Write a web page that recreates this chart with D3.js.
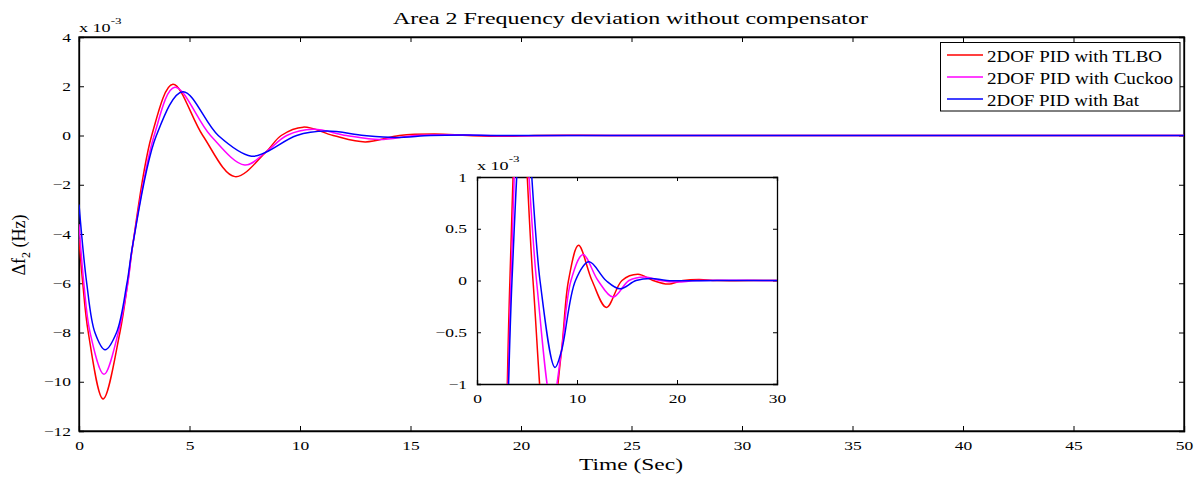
<!DOCTYPE html>
<html>
<head>
<meta charset="utf-8">
<script src="https://cdn.jsdelivr.net/npm/d3@7"></script>
<style>
body { margin: 0; background: #fff; }
text { font-family: "Liberation Serif", "DejaVu Serif", serif; fill: #000; }
</style>
</head>
<body>
<svg width="1203" height="478"></svg>
<script>
// values in units of 1e-3 Hz, time in seconds
var tlbo = [[0,-4.2],[0.17,-6],[0.42,-8],[1.09,-10.7],[1.85,-8],[2.2,-6],[2.44,-4.4],[3.29,0],[4.25,2.08],[5.6,0],[7.06,-1.67],[8.45,-0.68],[9.15,0],[10.15,0.34],[11.5,0],[12.95,-0.26],[14.5,0],[16.1,0.06],[17.6,0],[19.1,-0.035],[20.6,0],[22.2,0.01],[24,0],[30,0],[40,0],[50,0]];
var cuckoo = [[0,-3.6],[0.22,-6],[0.5,-8],[1.13,-9.7],[1.78,-8],[2.21,-6],[2.44,-4.4],[3.4,0],[4.34,1.96],[5.95,0],[7.5,-1.2],[8.45,-0.68],[9.4,0],[10.6,0.25],[12.1,0],[13.6,-0.16],[15.2,0],[16.8,0.035],[18.3,0],[20,-0.015],[22,0],[30,0],[40,0],[50,0]];
var bat = [[0,-2.8],[0.35,-6],[0.72,-8],[1.18,-8.7],[1.7,-8],[2.17,-6],[2.44,-4.4],[3.5,0],[4.7,1.78],[6.3,0],[7.8,-0.84],[8.45,-0.68],[9.85,0],[11.2,0.18],[12.9,0],[14.3,-0.08],[15.9,0],[17.4,0.02],[19,0],[24,0],[30,0],[40,0],[50,0]];

var seriesNames = ['2DOF PID with TLBO', '2DOF PID with Cuckoo', '2DOF PID with Bat'];
var seriesColors = ['#ff0000', '#ff00ff', '#0000ff'];
var legendWidths = [175, 186, 152];
var allSeries = [tlbo, cuckoo, bat];

var xTicks = [0,5,10,15,20,25,30,35,40,45,50];
var yTicks = [-12,-10,-8,-6,-4,-2,0,2,4];
var insetXTicks = [0,10,20,30];
var insetYTicks = [-1,-0.5,0,0.5,1];

var svg = d3.select('svg');
var stretch = 1.4;

// squeeze tick labels the same way as the original (wide type)
function styleAxis(g, side, pad) {
    g.selectAll('.domain').attr('stroke','#000').attr('stroke-width',1.3);
    g.selectAll('.tick line').attr('stroke','#000');
    g.selectAll('.tick text')
        .style('font-size','12.5px')
        .attr('transform','scale(' + stretch + ',1)');
    if (side === 'left') {
        g.selectAll('.tick text').attr('x', -pad / stretch);
    }
}

// ---- main plot
var x = d3.scaleLinear().domain([0,50]).range([79,1184]);
var y = d3.scaleLinear().domain([-12,4]).range([431,37]);

svg.append('clipPath').attr('id','mainclip')
    .append('rect').attr('x',79).attr('y',37).attr('width',1105).attr('height',394);

svg.append('rect')
    .attr('x',79).attr('y',37).attr('width',1105).attr('height',394)
    .attr('fill','#fff').attr('stroke','#000').attr('stroke-width',1.3);

var tl = 5;
svg.append('g').attr('transform','translate(0,431)')
    .call(d3.axisBottom(x).tickValues(xTicks).tickSize(-tl).tickPadding(10).tickFormat(d3.format('d')))
    .call(styleAxis, 'bottom');
svg.append('g').attr('transform','translate(0,37)')
    .call(d3.axisTop(x).tickValues(xTicks).tickSize(-tl).tickFormat(''))
    .call(styleAxis, 'top');
svg.append('g').attr('transform','translate(79,0)')
    .call(d3.axisLeft(y).tickValues(yTicks).tickSize(-tl).tickFormat(d3.format('d')))
    .call(styleAxis, 'left', 8);
svg.append('g').attr('transform','translate(1184,0)')
    .call(d3.axisRight(y).tickValues(yTicks).tickSize(-tl).tickFormat(''))
    .call(styleAxis, 'right');

var line = d3.line()
    .x(function(d){ return x(d[0]) })
    .y(function(d){ return y(d[1]) })
    .curve(d3.curveCatmullRom.alpha(0.5));

svg.append('g').attr('clip-path','url(#mainclip)')
    .selectAll('path')
    .data(allSeries)
    .enter()
    .append('path')
    .attr('d', line)
    .attr('fill','none')
    .attr('stroke', function(d,i){ return seriesColors[i] })
    .attr('stroke-width',1.5);

// exponent label
var ex = svg.append('text').attr('transform','translate(79,32) scale(1.45,1)').style('font-size','12.5px');
ex.append('tspan').text('x 10');
ex.append('tspan').attr('dy',-8).style('font-size','9px').text('-3');

// title and axis labels
svg.append('text').attr('x',393).attr('y',24)
    .attr('textLength',475).attr('lengthAdjust','spacingAndGlyphs')
    .style('font-size','17.5px').text('Area 2 Frequency deviation without compensator');
svg.append('text').attr('x',579).attr('y',470)
    .attr('textLength',104).attr('lengthAdjust','spacingAndGlyphs')
    .style('font-size','17px').text('Time (Sec)');
var yl = svg.append('text').attr('transform','translate(25,245) rotate(-90)')
    .attr('text-anchor','middle').style('font-size','18px');
yl.append('tspan').text('\u0394f');
yl.append('tspan').attr('dy',5).style('font-size','12px').text('2');
yl.append('tspan').attr('dy',-5).text(' (Hz)');

// ---- legend
var lg = svg.append('g');
lg.append('rect').attr('x',940.5).attr('y',42.5).attr('width',239.5).attr('height',68.5)
    .attr('fill','#fff').attr('stroke','#000').attr('stroke-width',1);
var rows = lg.selectAll('g.row')
    .data(seriesNames)
    .enter()
    .append('g')
    .attr('transform', function(d,i){ return 'translate(0,' + (55 + i*22) + ')' });
rows.append('line')
    .attr('x1',947).attr('x2',983).attr('y1',0).attr('y2',0)
    .attr('stroke', function(d,i){ return seriesColors[i] })
    .attr('stroke-width',1.3);
rows.append('text')
    .attr('x',987).attr('y',6.5)
    .attr('textLength', function(d,i){ return legendWidths[i] })
    .attr('lengthAdjust','spacingAndGlyphs')
    .style('font-size','16px')
    .text(function(d){ return d });

// ---- inset
var ix = d3.scaleLinear().domain([0,30]).range([477,777]);
var iy = d3.scaleLinear().domain([-1,1]).range([384,177]);
var inset = svg.append('g');

svg.append('clipPath').attr('id','insetclip')
    .append('rect').attr('x',477).attr('y',177).attr('width',300).attr('height',207);

inset.append('rect').attr('x',477).attr('y',177).attr('width',300).attr('height',207)
    .attr('fill','#fff');

var itl = 4;
inset.append('g').attr('transform','translate(0,384)')
    .call(d3.axisBottom(ix).tickValues(insetXTicks).tickSize(-itl).tickPadding(10).tickFormat(d3.format('d')))
    .call(styleAxis, 'bottom');
inset.append('g').attr('transform','translate(0,177)')
    .call(d3.axisTop(ix).tickValues(insetXTicks).tickSize(-itl).tickFormat(''))
    .call(styleAxis, 'top');
inset.append('g').attr('transform','translate(477,0)')
    .call(d3.axisLeft(iy).tickValues(insetYTicks).tickSize(-itl).tickFormat(function(d){ return d === 0 ? '0' : d3.format('')(d) }))
    .call(styleAxis, 'left', 10);
inset.append('g').attr('transform','translate(777,0)')
    .call(d3.axisRight(iy).tickValues(insetYTicks).tickSize(-itl).tickFormat(''))
    .call(styleAxis, 'right');

var iline = d3.line()
    .x(function(d){ return ix(d[0]) })
    .y(function(d){ return iy(d[1]) })
    .curve(d3.curveCatmullRom.alpha(0.5));

inset.append('g').attr('clip-path','url(#insetclip)')
    .selectAll('path')
    .data(allSeries)
    .enter()
    .append('path')
    .attr('d', iline)
    .attr('fill','none')
    .attr('stroke', function(d,i){ return seriesColors[i] })
    .attr('stroke-width',1.5);

var iex = inset.append('text').attr('transform','translate(477,170) scale(1.45,1)').style('font-size','12.5px');
iex.append('tspan').text('x 10');
iex.append('tspan').attr('dy',-8).style('font-size','9px').text('-3');
</script>
</body>
</html>
